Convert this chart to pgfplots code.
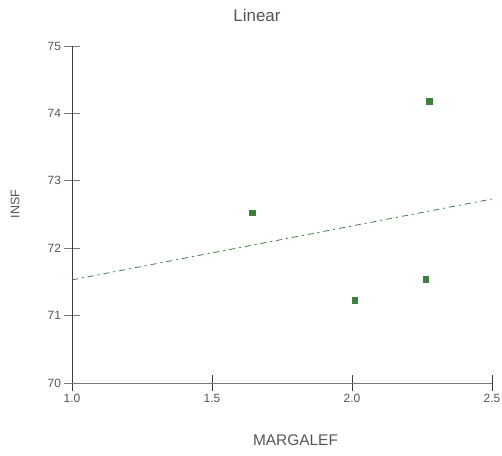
\documentclass[border=0pt]{standalone}
\usepackage{pgfplots}
\pgfplotsset{compat=1.18}
\usepackage{fontspec}
\setmainfont{Liberation Sans}

\definecolor{ptgreen}{RGB}{61,127,61}
\definecolor{labelgray}{RGB}{85,85,85}
\definecolor{axisdark}{RGB}{60,60,60}
\definecolor{axislight}{RGB}{120,120,120}

\begin{document}
\begin{tikzpicture}
\begin{axis}[
  name=ax,
  at={(0,0)}, anchor=south west,
  scale only axis,
  width=420bp, height=337bp,
  xmin=1.0, xmax=2.5, ymin=70, ymax=75,
  axis lines*=left,
  x axis line style={color=axislight, line width=0.8pt},
  y axis line style={color=axisdark, line width=0.8pt},
  xtick={1.0,1.5,2.0,2.5},
  ytick={70,71,72,73,74,75},
  tick align=center,
  major tick length=15bp,
  xtick style={color=axisdark, line width=0.6pt},
  ytick style={color=axislight, line width=0.8pt},
  xticklabel style={/pgf/number format/fixed,
    /pgf/number format/fixed zerofill,
    /pgf/number format/precision=1},
  /pgf/number format/assume math mode=true,
  tick label style={font=\fontsize{12}{14}\selectfont, text=labelgray},
  clip=false,
]
% observed points
\addplot[only marks, mark=square*, mark size=2.7bp, color=ptgreen]
  coordinates {(1.643,72.53) (2.010,71.23) (2.263,71.54) (2.275,74.18)};
% least-squares fit
\addplot[color=ptgreen, line width=0.8pt,
  dash pattern=on 6bp off 4bp on 2bp off 4bp]
  coordinates {(1.0,71.53) (2.5,72.73)};
\end{axis}
\node[text=labelgray, font=\fontsize{17}{20}\selectfont] at ([xshift=185bp, yshift=368bp]ax.south west) {Linear};
\node[text=labelgray, font=\fontsize{15.5}{18}\selectfont] at ([xshift=223.5bp, yshift=-57bp]ax.south west) {MARGALEF};
\node[text=labelgray, rotate=90, font=\fontsize{12.5}{15}\selectfont] at ([xshift=-57bp, yshift=179bp]ax.south west) {INSF};
\pgfresetboundingbox
\path[use as bounding box] (ax.south west) ++(-72bp,-73bp) rectangle ++(502bp,456bp);
\end{tikzpicture}
\end{document}
